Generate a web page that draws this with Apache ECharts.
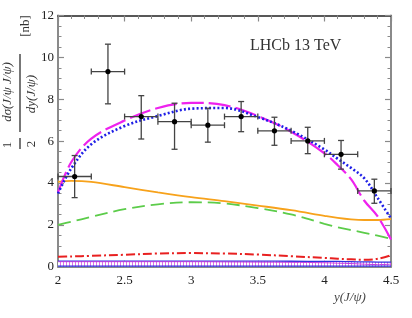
<!DOCTYPE html>
<html><head><meta charset="utf-8">
<script src="https://cdn.jsdelivr.net/npm/echarts@6/dist/echarts.min.js"></script>
<style>html,body{margin:0;padding:0;background:#fff}#c{width:412px;height:318px}</style>
</head><body><div id="c"></div>
<script>
// ---- data ----
const ptX   = [2.125, 2.375, 2.625, 2.875, 3.125, 3.375, 3.625, 3.875, 4.125, 4.375];
const ptY   = [4.31, 9.32, 7.17, 6.93, 6.76, 7.17, 6.49, 6.01, 5.37, 3.62];
const ptErrUp = [1.00, 1.31, 1.00, 0.88, 0.81, 0.72, 0.65, 0.65, 0.66, 0.56];
const ptErrDn = [1.01, 1.54, 1.07, 1.32, 0.81, 0.72, 0.69, 0.61, 0.71, 0.59];
const ptHalfW = 0.125;

const curveX   = [2.0, 2.1, 2.25, 2.5, 2.75, 3.0, 3.25, 3.5, 3.75, 4.0, 4.1, 4.2, 4.3, 4.4, 4.5];
const magenta  = [3.55, 5.0, 6.12, 6.98, 7.58, 7.83, 7.72, 7.2, 6.45, 5.42, 4.85, 4.18, 3.15, 2.4, 1.3];
const blueDot  = [3.5, 4.7, 5.85, 6.72, 7.2, 7.55, 7.58, 7.15, 6.5, 5.6, 5.15, 4.72, 4.22, 3.28, 2.3];
const orange   = [4.05, 4.1, 4.05, 3.8, 3.55, 3.32, 3.13, 2.92, 2.7, 2.43, 2.33, 2.26, 2.23, 2.23, 2.27];
const green    = [2.0, 2.15, 2.38, 2.75, 2.98, 3.08, 3.02, 2.8, 2.5, 2.05, 1.88, 1.75, 1.62, 1.48, 1.33];
const redDD    = [0.47, 0.49, 0.52, 0.57, 0.63, 0.65, 0.63, 0.58, 0.5, 0.42, 0.38, 0.35, 0.33, 0.38, 0.55];
const bandHi   = [0.27, 0.27, 0.27, 0.27, 0.27, 0.27, 0.27, 0.27, 0.26, 0.25, 0.25, 0.24, 0.23, 0.22, 0.22];
const bandLo   = [0.03, 0.03, 0.03, 0.03, 0.03, 0.03, 0.03, 0.03, 0.03, 0.03, 0.03, 0.03, 0.03, 0.03, 0.03];
const purple   = [0.24, 0.24, 0.24, 0.24, 0.24, 0.24, 0.23, 0.22, 0.21, 0.19, 0.17, 0.15, 0.12, 0.1, 0.12];

const xTicks = [2, 2.5, 3, 3.5, 4, 4.5];
const yTicks = [0, 2, 4, 6, 8, 10, 12];

// ---- helpers ----
const pairs = a => curveX.map((x, i) => [x, a[i]]);
const serif = 'Liberation Serif';

const pat = document.createElement('canvas');
pat.width = 3; pat.height = 4;
const pc = pat.getContext('2d');
pc.fillStyle = '#ffffff'; pc.fillRect(0, 0, 3, 4);
pc.fillStyle = '#e070e8'; pc.fillRect(0, 0, 1, 4);

const chart = echarts.init(document.getElementById('c'), null, {renderer: 'canvas'});

const axisCommon = {
  type: 'value',
  axisLine: {onZero: false, lineStyle: {color: '#8a8a8a', width: 2}},
  axisTick: {inside: true, length: 6, lineStyle: {color: '#8a8a8a', width: 1.2}},
  minorTick: {show: true, length: 3.5, lineStyle: {color: '#8a8a8a', width: 1}},
  splitLine: {show: false}
};

const errData = ptX.map((x, i) => [x, ptY[i], x - ptHalfW, x + ptHalfW, ptY[i] - ptErrDn[i], ptY[i] + ptErrUp[i]]);

const lineS = (name, data, color, type, width, z) => ({
  name, type: 'line', data: pairs(data), smooth: 0.35, symbol: 'none', z: z || 2,
  lineStyle: {color, type, width}, animation: false
});

chart.setOption({
  animation: false,
  grid: {left: 58, right: 21, top: 15.5, bottom: 51.3},
  xAxis: [
    Object.assign({}, axisCommon, {min: 2, max: 4.5, interval: 0.5, position: 'bottom',
      minorTick: Object.assign({}, axisCommon.minorTick, {splitNumber: 5}),
      axisLabel: {color: '#222', fontFamily: serif, fontSize: 13, margin: 7}}),
    Object.assign({}, axisCommon, {min: 2, max: 4.5, interval: 0.5, position: 'top',
      axisLine: {onZero: false, lineStyle: {color: '#222', width: 1.5}},
      minorTick: Object.assign({}, axisCommon.minorTick, {splitNumber: 5}),
      axisLabel: {show: false}})
  ],
  yAxis: [
    Object.assign({}, axisCommon, {min: 0, max: 12, interval: 2, position: 'left',
      minorTick: Object.assign({}, axisCommon.minorTick, {splitNumber: 4}),
      axisLabel: {color: '#222', fontFamily: serif, fontSize: 13, margin: 4}}),
    Object.assign({}, axisCommon, {min: 0, max: 12, interval: 2, position: 'right',
      minorTick: Object.assign({}, axisCommon.minorTick, {splitNumber: 4}),
      axisLabel: {show: false}})
  ],
  series: [
    {type: 'line', data: pairs(bandHi), smooth: true, symbol: 'none', z: 1,
     lineStyle: {width: 0}, areaStyle: {color: {image: pat, repeat: 'repeat'}, opacity: 1, origin: 'start'}},
    lineS('bandHi', bandHi, '#3030e0', 'solid', 1.3, 3),
    lineS('bandLo', bandLo, '#3030e0', 'solid', 1.3, 3),
    lineS('purple', purple, '#c040e0', 'solid', 1, 3),
    lineS('red', redDD, '#e82020', [9, 3, 2, 3], 2),
    lineS('green', green, '#5ccc4a', [13, 6], 1.8),
    lineS('orange', orange, '#f7a21b', 'solid', 1.8),
    lineS('magenta', magenta, '#ee22ee', [22, 5], 2.2, 4),
    lineS('blue', blueDot, '#1f1fe6', [2, 2.2], 2.6, 5),
    {type: 'custom', z: 6, data: errData,
     renderItem: function (params, api) {
       const c = api.coord([api.value(0), api.value(1)]);
       const l = api.coord([api.value(2), api.value(1)]);
       const r = api.coord([api.value(3), api.value(1)]);
       const lo = api.coord([api.value(0), api.value(4)]);
       const hi = api.coord([api.value(0), api.value(5)]);
       const st = {stroke: '#444', lineWidth: 1.3};
       const cap = 3;
       return {type: 'group', children: [
         {type: 'line', shape: {x1: l[0], y1: l[1], x2: r[0], y2: r[1]}, style: st},
         {type: 'line', shape: {x1: l[0], y1: l[1] - cap, x2: l[0], y2: l[1] + cap}, style: st},
         {type: 'line', shape: {x1: r[0], y1: r[1] - cap, x2: r[0], y2: r[1] + cap}, style: st},
         {type: 'line', shape: {x1: lo[0], y1: lo[1], x2: hi[0], y2: hi[1]}, style: st},
         {type: 'line', shape: {x1: lo[0] - cap, y1: lo[1], x2: lo[0] + cap, y2: lo[1]}, style: st},
         {type: 'line', shape: {x1: hi[0] - cap, y1: hi[1], x2: hi[0] + cap, y2: hi[1]}, style: st},
         {type: 'circle', shape: {cx: c[0], cy: c[1], r: 2.6}, style: {fill: '#000'}}
       ]};
     }}
  ],
  graphic: [
    {type: 'text', left: 250, top: 38, style: {text: 'LHCb 13 TeV', font: '16px "Liberation Serif"', fill: '#333'}},
    {type: 'text', left: 334, top: 291, style: {text: 'y(J/ψ)', font: 'italic 13px "Liberation Serif"', fill: '#444'}},
    {type: 'group', x: 0, y: 150, rotation: Math.PI / 2, children: [
      {type: 'text', x: 5, y: 8, style: {text: '1', font: '13px "Liberation Serif"', fill: '#333', align: 'center', verticalAlign: 'middle'}},
      {type: 'text', x: 6, y: 32, style: {text: '2', font: '13px "Liberation Serif"', fill: '#333', align: 'center', verticalAlign: 'middle'}},
      {type: 'line', shape: {x1: 1, y1: 20, x2: 12, y2: 20}, style: {stroke: '#555', lineWidth: 1.6}},
      {type: 'text', x: 58, y: 8, style: {text: 'dσ(J/ψ J/ψ)', font: 'italic 13px "Liberation Serif"', fill: '#333', align: 'center', verticalAlign: 'middle'}},
      {type: 'line', shape: {x1: 18, y1: 20, x2: 96, y2: 20}, style: {stroke: '#555', lineWidth: 1.6}},
      {type: 'text', x: 56, y: 32, style: {text: 'dy(J/ψ)', font: 'italic 13px "Liberation Serif"', fill: '#333', align: 'center', verticalAlign: 'middle'}},
      {type: 'text', x: 124, y: 26, style: {text: '[nb]', font: '13px "Liberation Serif"', fill: '#333', align: 'center', verticalAlign: 'middle'}}
    ]}
  ]
});
</script></body></html>
